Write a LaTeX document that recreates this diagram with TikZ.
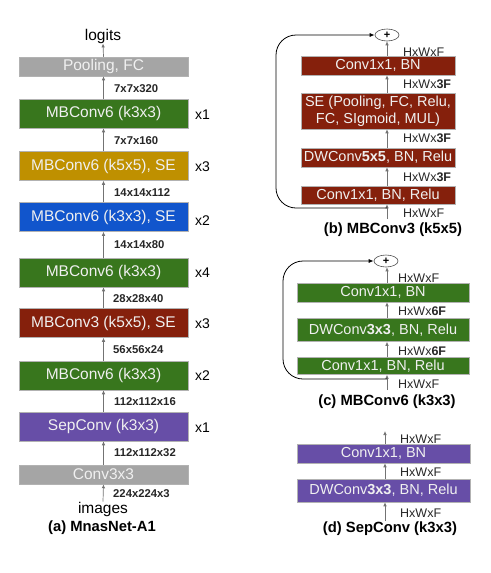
\documentclass[tikz,border=0pt]{standalone}
\usepackage{fontspec}
\setmainfont{Liberation Sans}
\usetikzlibrary{arrows.meta,calc,shapes.geometric}
\definecolor{cgray}{HTML}{A5A5A5}
\definecolor{cgreen}{HTML}{38761D}
\definecolor{cgold}{HTML}{BF9000}
\definecolor{cblue}{HTML}{1155CC}
\definecolor{cred}{HTML}{85200C}
\definecolor{cpurple}{HTML}{674EA7}
\begin{document}
\begin{tikzpicture}[x=1pt,y=-1pt,
  lbox/.style={draw=black!30, line width=0.5pt, minimum width=169, minimum height=29,
    text=white!94!black, font=\fontsize{15.5}{18}\selectfont, inner sep=0},
  rbox/.style={draw=black!30, line width=0.5pt, minimum height=19,
    text=white!94!black, font=\fontsize{14.5}{17}\selectfont, inner sep=0, align=center},
  dimlab/.style={anchor=west, font=\bfseries\fontsize{11.3}{13}\selectfont, text=black!85, inner sep=0},
  replab/.style={anchor=west, font=\fontsize{14}{16}\selectfont, inner sep=0},
  hwlab/.style={anchor=west, font=\fontsize{12.5}{14}\selectfont, text=black!85, inner sep=0},
  plain/.style={font=\fontsize{15.5}{18}\selectfont, inner sep=0},
  capt/.style={font=\bfseries\fontsize{14.8}{17}\selectfont, inner sep=0},
  arr/.style={-{Latex[length=4pt,width=3.5pt]}, draw=black!55, line width=0.7pt},
  skiparr/.style={-{Latex[length=5pt,width=4pt]}, draw=black, line width=0.8pt, rounded corners=20pt},
  plusnode/.style={ellipse, draw=black!70, line width=0.6pt, minimum width=24, minimum height=12, inner sep=0,
    font=\bfseries\fontsize{11}{12}\selectfont}
]
\useasboundingbox (0,0) rectangle (490,573);

% ---------- (a) MnasNet-A1 ----------
\node[plain] (logits) at (103,36) {logits};
\node[lbox, fill=cgray, minimum height=19] (pool) at (103.5,66.5) {Pooling, FC};
\node[lbox, fill=cgreen] (a1) at (103.5,113.5) {MBConv6 (k3x3)};
\node[lbox, fill=cgold] (a2) at (103.5,166) {MBConv6 (k5x5), SE};
\node[lbox, fill=cblue] (a3) at (103.5,217) {MBConv6 (k3x3), SE};
\node[lbox, fill=cgreen] (a4) at (103.5,272.5) {MBConv6 (k3x3)};
\node[lbox, fill=cred] (a5) at (103.5,323) {MBConv3 (k5x5), SE};
\node[lbox, fill=cgreen] (a6) at (103.5,375.5) {MBConv6 (k3x3)};
\node[lbox, fill=cpurple] (a7) at (103.5,426.5) {SepConv (k3x3)};
\node[lbox, fill=cgray, minimum height=19] (conv) at (103.5,474.5) {Conv3x3};
\node[plain] (images) at (103,509) {images};
\node[capt] (capa) at (102,528) {(a) MnasNet-A1};

\node[replab] (r1) at (195,115) {x1};
\node[replab] (r2) at (195,167) {x3};
\node[replab] (r3) at (195,221) {x2};
\node[replab] (r4) at (195,273) {x4};
\node[replab] (r5) at (195,324) {x3};
\node[replab] (r6) at (195,376) {x2};
\node[replab] (r7) at (195,428) {x1};

\node[dimlab] (d1) at (114,89) {7x7x320};
\node[dimlab] (d2) at (114,141) {7x7x160};
\node[dimlab] (d3) at (114,193) {14x14x112};
\node[dimlab] (d4) at (114,245) {14x14x80};
\node[dimlab] (d5) at (113,299) {28x28x40};
\node[dimlab] (d6) at (113,350) {56x56x24};
\node[dimlab] (d7) at (114,402) {112x112x16};
\node[dimlab] (d8) at (114,453) {112x112x32};
\node[dimlab] (d9) at (113,494) {224x224x3};

\draw[arr] (pool.north) -- (logits.south);
\draw[arr] (a1.north) -- (pool.south);
\draw[arr] (a2.north) -- (a1.south);
\draw[arr] (a3.north) -- (a2.south);
\draw[arr] (a4.north) -- (a3.south);
\draw[arr] (a5.north) -- (a4.south);
\draw[arr] (a6.north) -- (a5.south);
\draw[arr] (a7.north) -- (a6.south);
\draw[arr] (conv.north) -- (a7.south);
\draw[arr] (images.north) -- (conv.south);

% ---------- (b) MBConv3 (k5x5) ----------
\node[plusnode] (bplus) at (387,35) {+};
\node[rbox, fill=cred, minimum width=154] (b4) at (378,65.5) {Conv1x1, BN};
\node[rbox, fill=cred, minimum width=154, minimum height=36] (b3) at (378,111) {SE (Pooling, FC, Relu,\\FC, SIgmoid, MUL)};
\node[rbox, fill=cred, minimum width=154] (b2) at (378,157.5) {DWConv\textbf{5x5}, BN, Relu};
\node[rbox, fill=cred, minimum width=154, minimum height=18] (b1) at (378,195) {Conv1x1, BN, Relu};
\node[hwlab] (bl1) at (403,52) {HxWxF};
\node[hwlab] (bl2) at (403,84) {HxWx\textbf{3F}};
\node[hwlab] (bl3) at (403,138) {HxWx\textbf{3F}};
\node[hwlab] (bl4) at (403,177.5) {HxWx\textbf{3F}};
\node[hwlab] (bl5) at (403,213) {HxWxF};
\node[capt] (capb) at (393,230) {(b) MBConv3 (k5x5)};
\coordinate (bin) at (387,219);
\coordinate (bskip) at (387,208);
\coordinate (bleft) at (276,120);
\draw[arr] (bin) -- (b1.south -| bin);
\draw[arr] (b1.north -| bin) -- (b2.south -| bin);
\draw[arr] (b2.north -| bin) -- (b3.south -| bin);
\draw[arr] (b3.north -| bin) -- (b4.south -| bin);
\draw[arr] (b4.north -| bin) -- (bplus.south);
\draw[skiparr] (bskip) -| (bleft) |- (bplus.west);

% ---------- (c) MBConv6 (k3x3) ----------
\node[plusnode] (cplus) at (386,261) {+};
\node[rbox, fill=cgreen, minimum width=172] (c3) at (383,292.5) {Conv1x1, BN};
\node[rbox, fill=cgreen, minimum width=172, minimum height=23] (c2) at (383,330) {DWConv\textbf{3x3}, BN, Relu};
\node[rbox, fill=cgreen, minimum width=172, minimum height=17] (c1) at (383,366) {Conv1x1, BN, Relu};
\node[hwlab] (cl1) at (398,278) {HxWxF};
\node[hwlab] (cl2) at (398,311) {HxWx\textbf{6F}};
\node[hwlab] (cl3) at (398,351) {HxWx\textbf{6F}};
\node[hwlab] (cl4) at (398,384.5) {HxWxF};
\node[capt] (capc) at (387,402) {(c) MBConv6 (k3x3)};
\coordinate (cin) at (387,390);
\coordinate (cskip) at (387,379);
\coordinate (cleft) at (283,320);
\draw[arr] (cin) -- (c1.south -| cin);
\draw[arr] (c1.north -| cin) -- (c2.south -| cin);
\draw[arr] (c2.north -| cin) -- (c3.south -| cin);
\draw[arr] (c3.north -| cin) -- (cplus.south -| cin);
\draw[skiparr] (cskip) -| (cleft) |- (cplus.west);

% ---------- (d) SepConv (k3x3) ----------
\node[rbox, fill=cpurple, minimum width=173] (d2b) at (383.5,453.5) {Conv1x1, BN};
\node[rbox, fill=cpurple, minimum width=173, minimum height=23] (d1b) at (383.5,490.5) {DWConv\textbf{3x3}, BN, Relu};
\node[hwlab] (dl1) at (400,439) {HxWxF};
\node[hwlab] (dl2) at (400,472) {HxWxF};
\node[hwlab] (dl3) at (400,513) {HxWxF};
\node[capt] (capd) at (390,529) {(d) SepConv (k3x3)};
\coordinate (din) at (385,521);
\coordinate (dout) at (385,431);
\draw[arr] (din) -- (d1b.south -| din);
\draw[arr] (d1b.north -| din) -- (d2b.south -| din);
\draw[arr] (d2b.north -| din) -- (dout);
\end{tikzpicture}
\end{document}
